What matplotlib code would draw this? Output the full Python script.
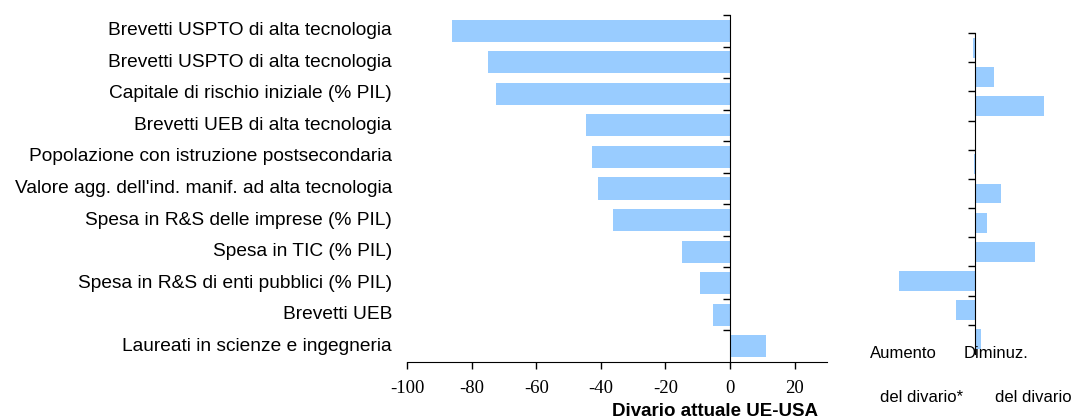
import matplotlib
matplotlib.use("Agg")
import matplotlib.pyplot as plt
import matplotlib.transforms as mtransforms
import numpy as np

categories = [
    "Brevetti USPTO di alta tecnologia",
    "Brevetti USPTO di alta tecnologia",
    "Capitale di rischio iniziale (% PIL)",
    "Brevetti UEB di alta tecnologia",
    "Popolazione con istruzione postsecondaria",
    "Valore agg. dell'ind. manif. ad alta tecnologia",
    "Spesa in R&S delle imprese (% PIL)",
    "Spesa in TIC (% PIL)",
    "Spesa in R&S di enti pubblici (% PIL)",
    "Brevetti UEB",
    "Laureati in scienze e ingegneria",
]
current_gap = [-86, -75, -72.3, -44.6, -42.8, -41, -36.3, -15, -9.2, -5.2, 11]
gap_change = [-1, 9.5, 34.5, 0, -0.7, 13, 6, 30, -38, -9.5, 3]
xticks = [-100, -80, -60, -40, -20, 0, 20]

bar_color = "#99CCFF"
fig = plt.figure(figsize=(10.73, 4.18), dpi=100)

ypos = np.arange(len(categories))
bounds = np.arange(len(categories)) - 0.5

# Left panel
ax = fig.add_axes([407/1073, 56/418, 420/1073, 347/418])
ax.barh(ypos, current_gap, height=0.7, color=bar_color, zorder=2)
ax.set_xlim(-100, 30)
ax.set_ylim(len(categories) - 0.5, -0.5)
for s in ["top", "right"]:
    ax.spines[s].set_visible(False)
ax.spines["left"].set_position(("data", 0))
ax.spines["left"].set_zorder(3)
ax.set_yticks(bounds)
ax.set_yticklabels([])
ax.tick_params(axis="y", direction="out", length=5, width=1)
ax.set_xticks(xticks)
ax.set_xticklabels([str(t) for t in xticks], family="Liberation Serif", fontsize=13.5)
ax.tick_params(axis="x", direction="out", length=5, width=1, pad=8)
trans = mtransforms.blended_transform_factory(ax.transAxes, ax.transData)
for i, lab in enumerate(categories):
    ax.text(-0.036, i, lab, transform=trans, ha="right", va="center",
            family="Liberation Sans", fontsize=13.75)
fig.text(715/1073, 1 - 411/418, "Divario attuale UE-USA", ha="center", va="center",
         family="Liberation Sans", fontsize=13.5, fontweight="bold")

# Right panel
ax2 = fig.add_axes([860/1073, 64/418, 210/1073, 321/418])
ax2.barh(ypos, gap_change, height=0.68, color=bar_color, zorder=2)
ax2.set_xlim(-57.5, 47.5)
ax2.set_ylim(len(categories) - 0.5, -0.5)
for s in ["top", "right", "bottom"]:
    ax2.spines[s].set_visible(False)
ax2.spines["left"].set_position(("data", 0))
ax2.spines["left"].set_zorder(3)
ax2.set_yticks(bounds)
ax2.set_yticklabels([])
ax2.tick_params(axis="y", direction="out", length=5, width=1)
ax2.set_xticks([])

fig.text(903/1073, 1 - 353/418, "Aumento", ha="center", va="center",
         family="Liberation Sans", fontsize=12)
fig.text(996/1073, 1 - 353/418, "Diminuz.", ha="center", va="center",
         family="Liberation Sans", fontsize=12)
fig.text(922/1073, 1 - 397/418, "del divario*", ha="center", va="center",
         family="Liberation Sans", fontsize=12)
fig.text(1033/1073, 1 - 397/418, "del divario", ha="center", va="center",
         family="Liberation Sans", fontsize=12)

fig.savefig("out.png", dpi=100)
